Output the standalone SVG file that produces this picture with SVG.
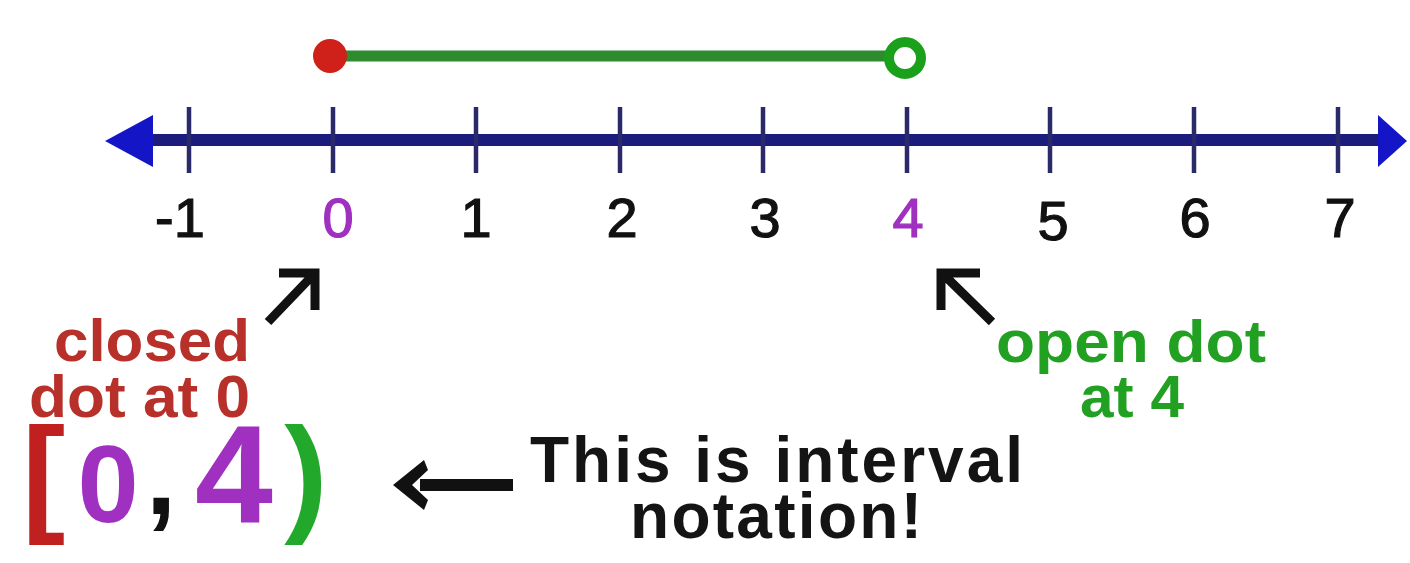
<svg xmlns="http://www.w3.org/2000/svg" width="1410" height="563" viewBox="0 0 1410 563">
  <style>
    .num { font-family: "Liberation Sans", Arial, sans-serif; font-size: 56px; fill: #111; text-anchor: middle; stroke: #111; stroke-width: 1.2px; }
    .pur { fill: #a030c0; stroke: #a030c0; }
    .lbl { font-family: "Liberation Sans", Arial, sans-serif; font-weight: bold; font-size: 59px; }
    .red { fill: #b8302a; }
    .grn { fill: #22a022; }
    .note { font-family: "Liberation Sans", Arial, sans-serif; font-weight: bold; font-size: 64px; fill: #141414; }
    .big { font-family: "Liberation Sans", Arial, sans-serif; font-weight: bold; }
    .tick { stroke: #2a2a6a; stroke-width: 4.5; }
    .ptr { fill: none; stroke: #111; stroke-width: 9; stroke-linecap: butt; stroke-linejoin: miter; }
  </style>
  <rect x="0" y="0" width="1410" height="563" fill="#ffffff"/>

  <g id="number-line">
    <line x1="140" y1="140" x2="1385" y2="140" stroke="#1c1c7c" stroke-width="12"/>
    <polygon points="105,141 153,115 153,167" fill="#1515c8"/>
    <polygon points="1407,141 1378,115 1378,167" fill="#1515c8"/>
    <g id="ticks">
      <line class="tick" x1="189" y1="107" x2="189" y2="173"/>
      <line class="tick" x1="333" y1="107" x2="333" y2="173"/>
      <line class="tick" x1="476" y1="107" x2="476" y2="173"/>
      <line class="tick" x1="620" y1="107" x2="620" y2="173"/>
      <line class="tick" x1="763" y1="107" x2="763" y2="173"/>
      <line class="tick" x1="907" y1="107" x2="907" y2="173"/>
      <line class="tick" x1="1050" y1="107" x2="1050" y2="173"/>
      <line class="tick" x1="1194" y1="107" x2="1194" y2="173"/>
      <line class="tick" x1="1338" y1="107" x2="1338" y2="173"/>
    </g>
    <g id="tick-labels">
      <text class="num" x="180" y="237">-1</text>
      <text class="num pur" x="338" y="237">0</text>
      <text class="num" x="476" y="237">1</text>
      <text class="num" x="622" y="237">2</text>
      <text class="num" x="765" y="237">3</text>
      <text class="num pur" x="908" y="237">4</text>
      <text class="num" x="1053" y="240">5</text>
      <text class="num" x="1195" y="237">6</text>
      <text class="num" x="1340" y="237">7</text>
    </g>
  </g>

  <g id="interval-segment">
    <line x1="330" y1="56" x2="890" y2="56" stroke="#2e8b2e" stroke-width="11"/>
    <circle id="closed-dot" cx="330" cy="56" r="17" fill="#d0201a"/>
    <circle id="open-dot" cx="905" cy="58" r="16" fill="#ffffff" stroke="#1aa01a" stroke-width="10"/>
  </g>

  <g id="connectors">
    <path class="ptr" d="M268,322 L314,274 M279,273 L315,273 L315,310"/>
    <path class="ptr" d="M992,322 L943,274 M980,273 L941,273 L941,310"/>
    <line x1="420" y1="485" x2="513" y2="485" stroke="#111" stroke-width="12"/>
    <polygon points="393,485 424,460 428,470 412,485 428,500 424,510" fill="#111"/>
  </g>

  <g id="closed-label">
    <text class="lbl red" x="54" y="361" textLength="196" lengthAdjust="spacingAndGlyphs">closed</text>
    <text class="lbl red" x="29" y="417" textLength="221" lengthAdjust="spacingAndGlyphs">dot at 0</text>
  </g>

  <g id="open-label">
    <text class="lbl grn" x="996" y="362" textLength="270" lengthAdjust="spacingAndGlyphs">open dot</text>
    <text class="lbl grn" x="1080" y="417" textLength="104" lengthAdjust="spacingAndGlyphs">at 4</text>
  </g>

  <g id="interval-notation">
    <text class="big" x="22" y="518" font-size="130" fill="#c02020">[</text>
    <text class="big" x="108" y="522" font-size="110" fill="#a030c0" text-anchor="middle">0</text>
    <text class="big" x="161" y="514" font-size="110" fill="#111" text-anchor="middle">,</text>
    <text class="big" x="234" y="523" font-size="140" fill="#a030c0" text-anchor="middle">4</text>
    <text class="big" x="306" y="518" font-size="130" fill="#22a82a" text-anchor="middle">)</text>
  </g>

  <g id="note">
    <text class="note" x="530" y="482" textLength="493" lengthAdjust="spacing">This is interval</text>
    <text class="note" x="630" y="538" textLength="292" lengthAdjust="spacing">notation!</text>
  </g>
</svg>
